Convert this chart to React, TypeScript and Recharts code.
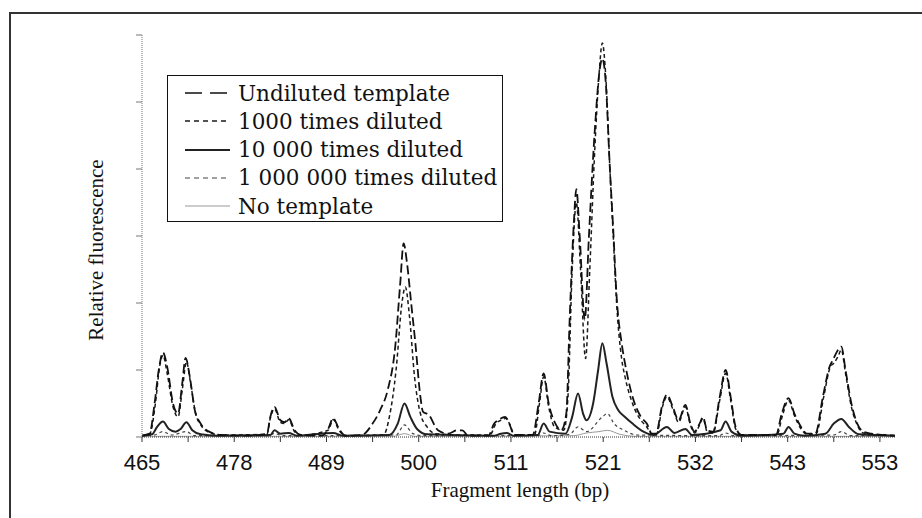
import { Line, LineChart, XAxis, YAxis } from "recharts";

type Pt = { bp: number; v: number };

// tick labels printed under every second tick mark
const xTickLabels = ["465", "478", "489", "500", "511", "521", "532", "543", "553"];
const xTickCount = 17;
const xTicks = Array.from({ length: xTickCount }, (_, i) => 465 + i * 5.5);
const yTicks = [0, 1, 2, 3, 4, 5, 6];

const seriesNames = [
  "Undiluted template",
  "1000 times diluted",
  "10 000 times diluted",
  "1 000 000 times diluted",
  "No template",
];

const toPts = (rows: number[][]): Pt[] => rows.map(([bp, v]) => ({ bp, v }));

const undiluted = toPts([
  [465, 0.02], [465.9, 0.05], [466.5, 0.5], [467.0, 1.0], [467.5, 1.26], [468.0, 1.05],
  [468.7, 0.5], [469.3, 0.35], [469.8, 0.8], [470.2, 1.18], [470.7, 0.9], [471.3, 0.4],
  [472.0, 0.2], [473.0, 0.08], [474.5, 0.03], [478.0, 0.02], [479.9, 0.05], [480.3, 0.3],
  [480.8, 0.45], [481.5, 0.25], [482.0, 0.22], [482.5, 0.28], [483.2, 0.1], [484.0, 0.03],
  [486.5, 0.02], [487.2, 0.12], [487.8, 0.28], [488.5, 0.12], [489.3, 0.02], [491.2, 0.03],
  [492.5, 0.2], [493.4, 0.4], [494.3, 0.7], [495.2, 1.35], [495.8, 2.3], [496.2, 2.89],
  [496.6, 2.6], [497.1, 2.0], [497.6, 1.4], [498.2, 0.6], [498.5, 0.38], [499.2, 0.33],
  [500.3, 0.1], [501.5, 0.05], [502.6, 0.1], [503.2, 0.1], [503.9, 0.02], [506.3, 0.02],
  [507.0, 0.2], [507.6, 0.26], [508.3, 0.3], [508.8, 0.2], [509.4, 0.03], [511.6, 0.03],
  [512.3, 0.5], [512.9, 0.95], [513.5, 0.5], [514.3, 0.2], [515.0, 0.1], [515.6, 0.35],
  [516.0, 1.75], [516.5, 3.2], [516.8, 3.7], [517.2, 3.0], [517.8, 1.75], [518.3, 3.0],
  [519.0, 4.58], [519.6, 5.5], [519.9, 5.65], [520.3, 5.3], [520.8, 4.0], [521.2, 3.09],
  [521.6, 2.1], [522.2, 1.4], [522.6, 1.1], [523.5, 0.6], [524.5, 0.3], [525.2, 0.2],
  [525.8, 0.05], [526.3, 0.05], [527.0, 0.45], [527.6, 0.63], [528.3, 0.45], [529.0, 0.25],
  [529.8, 0.48], [530.4, 0.2], [530.9, 0.08], [531.5, 0.2], [531.9, 0.3], [532.4, 0.1],
  [533.1, 0.08], [533.9, 0.6], [534.6, 1.0], [535.2, 0.6], [535.8, 0.15], [536.5, 0.03],
  [540.6, 0.03], [541.3, 0.35], [542.1, 0.58], [542.8, 0.35], [543.6, 0.15], [544.3, 0.05],
  [545.3, 0.05], [546.2, 0.6], [547.0, 1.05], [547.4, 1.15], [548.0, 1.3], [548.4, 1.35],
  [548.9, 1.0], [549.6, 0.5], [550.3, 0.2], [551.0, 0.08], [552.0, 0.05], [553.5, 0.03],
  [554.8, 0.02],
]);

const diluted1000 = toPts([
  [465, 0.02], [465.9, 0.04], [466.6, 0.5], [467.1, 1.05], [467.5, 1.22], [468.0, 0.95],
  [468.7, 0.45], [469.3, 0.3], [469.8, 0.7], [470.3, 1.12], [470.8, 0.8], [471.4, 0.35],
  [472.0, 0.18], [473.0, 0.07], [474.5, 0.03], [479.9, 0.04], [480.3, 0.28], [480.8, 0.42],
  [481.5, 0.22], [482.0, 0.2], [482.5, 0.26], [483.2, 0.08], [484.0, 0.03], [487.2, 0.1],
  [487.8, 0.26], [488.5, 0.1], [489.3, 0.02], [493.8, 0.03], [494.5, 0.3], [495.3, 1.0],
  [496.0, 2.0], [496.4, 2.24], [496.9, 1.8], [497.5, 0.9], [498.2, 0.35], [499.0, 0.15],
  [500.0, 0.05], [503.0, 0.03], [506.5, 0.03], [507.2, 0.2], [507.8, 0.25], [508.4, 0.28],
  [508.9, 0.18], [509.4, 0.03], [511.8, 0.03], [512.4, 0.5], [512.9, 0.9], [513.5, 0.45],
  [514.2, 0.15], [515.3, 0.1], [515.8, 0.6], [516.3, 2.5], [516.8, 3.5], [517.3, 2.5],
  [517.9, 1.17], [518.4, 2.5], [519.0, 4.3], [519.5, 5.4], [519.9, 5.88], [520.3, 5.4],
  [520.8, 4.0], [521.2, 3.0], [521.6, 2.0], [522.2, 1.17], [522.6, 0.9], [523.5, 0.5],
  [524.5, 0.25], [525.2, 0.15], [525.8, 0.04], [526.4, 0.05], [527.0, 0.42], [527.6, 0.6],
  [528.3, 0.42], [529.0, 0.22], [529.8, 0.45], [530.4, 0.18], [530.9, 0.06], [531.5, 0.18],
  [531.9, 0.28], [532.4, 0.08], [533.1, 0.06], [533.9, 0.55], [534.6, 0.95], [535.2, 0.55],
  [535.8, 0.12], [536.5, 0.03], [540.7, 0.03], [541.4, 0.33], [542.1, 0.55], [542.8, 0.32],
  [543.6, 0.12], [544.3, 0.04], [545.4, 0.05], [546.3, 0.6], [547.1, 1.05], [547.5, 1.1],
  [548.0, 1.2], [548.4, 1.3], [548.9, 0.95], [549.6, 0.45], [550.3, 0.18], [551.0, 0.06],
  [554.8, 0.02],
]);

const diluted10k = toPts([
  [465, 0.02], [466.2, 0.04], [466.8, 0.15], [467.5, 0.23], [468.2, 0.12], [469.0, 0.08],
  [469.6, 0.12], [470.3, 0.22], [471.0, 0.1], [472.0, 0.04], [474.0, 0.02], [480.3, 0.03],
  [480.8, 0.1], [481.5, 0.05], [482.5, 0.06], [483.5, 0.02], [487.8, 0.06], [489.0, 0.02],
  [494.5, 0.03], [495.5, 0.2], [496.3, 0.5], [497.0, 0.3], [497.8, 0.12], [499.0, 0.04],
  [507.0, 0.02], [507.8, 0.05], [508.5, 0.06], [509.3, 0.02], [512.2, 0.03], [512.9, 0.2],
  [513.6, 0.08], [515.5, 0.05], [516.3, 0.3], [517.0, 0.65], [517.6, 0.35], [518.0, 0.25],
  [518.8, 0.5], [519.4, 1.0], [519.9, 1.4], [520.4, 1.1], [521.1, 0.6], [521.8, 0.4],
  [522.6, 0.3], [523.5, 0.2], [524.8, 0.08], [526.0, 0.03], [527.6, 0.15], [528.5, 0.06],
  [529.8, 0.12], [530.6, 0.03], [534.0, 0.1], [534.6, 0.23], [535.3, 0.08], [536.5, 0.02],
  [541.5, 0.05], [542.1, 0.15], [542.8, 0.05], [544.0, 0.02], [546.5, 0.05], [547.5, 0.2],
  [548.4, 0.27], [549.3, 0.15], [550.5, 0.04], [554.8, 0.02],
]);

const diluted1M = toPts([
  [465, 0.02], [466.5, 0.03], [467.5, 0.08], [468.5, 0.03], [470.3, 0.08], [471.2, 0.02],
  [480.0, 0.02], [480.8, 0.05], [481.8, 0.02], [495.3, 0.03], [496.3, 0.18], [497.3, 0.05],
  [498.5, 0.02], [512.2, 0.02], [512.9, 0.06], [513.8, 0.02], [516.0, 0.04], [517.0, 0.15],
  [518.0, 0.08], [519.9, 0.3], [520.5, 0.35], [521.3, 0.2], [522.5, 0.1], [524.0, 0.03],
  [533.8, 0.02], [534.6, 0.06], [535.5, 0.02], [547.5, 0.03], [548.4, 0.08], [549.5, 0.02],
  [554.8, 0.02],
]);

const noTemplate = toPts([
  [465, 0.01], [495.0, 0.01], [496.3, 0.05], [497.5, 0.01], [516.5, 0.02], [518.0, 0.06],
  [519.5, 0.08], [520.5, 0.1], [522.0, 0.04], [524.0, 0.01], [554.8, 0.01],
]);

const styles = [
  { data: undiluted, stroke: "#111", width: 1.8, dash: "9 4", legendDash: "17 8" },
  { data: diluted1000, stroke: "#1a1a1a", width: 1.5, dash: "4 3", legendDash: "5 4" },
  { data: diluted10k, stroke: "#222", width: 2, dash: undefined, legendDash: undefined },
  { data: diluted1M, stroke: "#444", width: 1.2, dash: "3 3", legendDash: "5 4" },
  { data: noTemplate, stroke: "#999", width: 1, dash: undefined, legendDash: undefined },
];

function LegendBox() {
  return (
    <div
      style={{
        position: "absolute",
        left: 167,
        top: 75,
        width: 336,
        height: 147,
        border: "1.5px solid #111",
        background: "#fff",
        boxSizing: "border-box",
      }}
    >
      {seriesNames.map((name, i) => {
        const s = styles[i];
        return (
          <div
            key={name}
            style={{
              position: "absolute",
              left: 17,
              top: 3 + i * 28.3,
              height: 28,
              display: "flex",
              alignItems: "center",
              whiteSpace: "nowrap",
            }}
          >
            <svg width={45} height={10} style={{ marginRight: 8 }}>
              <line
                x1={0}
                y1={5}
                x2={45}
                y2={5}
                stroke={s.stroke}
                strokeWidth={i === 0 ? 1.6 : s.width}
                strokeDasharray={s.legendDash}
              />
            </svg>
            <span style={{ fontFamily: "DejaVu Serif", fontSize: 21.5, color: "#111" }}>{name}</span>
          </div>
        );
      })}
    </div>
  );
}

export default function App() {
  return (
    <div
      style={{
        position: "absolute",
        left: 0,
        top: 0,
        width: 922,
        height: 518,
        overflow: "hidden",
        background: "#fff",
      }}
    >
      <div
        style={{
          position: "absolute",
          left: 9,
          top: 12,
          width: 1000,
          height: 1000,
          border: "2px solid #333",
        }}
      />
      <LineChart
        width={922}
        height={518}
        margin={{ top: 35, right: 27, bottom: 0, left: 0 }}
        style={{ position: "absolute", left: 0, top: 0 }}
      >
        <XAxis
          dataKey="bp"
          type="number"
          domain={[465, 554.8]}
          ticks={xTicks}
          interval={0}
          height={81}
          allowDataOverflow
          tickSize={5}
          tickMargin={12}
          stroke="#333"
          axisLine={{ stroke: "#333", strokeDasharray: "1 1" }}
          tick={{ fill: "#111", fontSize: 22, fontFamily: "Liberation Sans" }}
          tickFormatter={(_v: number, i: number) => (i % 2 === 0 ? xTickLabels[i / 2] : "")}
        />
        <XAxis
          xAxisId="top"
          orientation="top"
          type="number"
          domain={[465, 554.8]}
          height={0}
          tick={false}
          tickLine={false}
          axisLine={{ stroke: "#bbb", strokeDasharray: "2 3" }}
        />
        <YAxis
          width={142}
          type="number"
          domain={[0, 6]}
          ticks={yTicks}
          tickSize={6}
          stroke="#777"
          axisLine={{ stroke: "#777", strokeDasharray: "1 1" }}
          tickFormatter={() => ""}
        />
        <YAxis
          yAxisId="right"
          orientation="right"
          width={0}
          domain={[0, 6]}
          tick={false}
          tickLine={false}
          axisLine={{ stroke: "#666", strokeDasharray: "1 1" }}
        />
        {styles
          .map((s, i) => ({ ...s, name: seriesNames[i] }))
          .reverse()
          .map((s) => (
            <Line
              key={s.name}
              data={s.data}
              dataKey="v"
              name={s.name}
              type="monotone"
              stroke={s.stroke}
              strokeWidth={s.width}
              strokeDasharray={s.dash}
              dot={false}
              activeDot={false}
              isAnimationActive={false}
            />
          ))}
      </LineChart>
      <LegendBox />
      <div
        style={{
          position: "absolute",
          left: 96,
          top: 250,
          transform: "translate(-50%, -50%) rotate(-90deg)",
          fontFamily: "Liberation Serif",
          fontSize: 21,
          color: "#111",
          whiteSpace: "nowrap",
        }}
      >
        Relative fluorescence
      </div>
      <div
        style={{
          position: "absolute",
          left: 520,
          top: 490,
          transform: "translate(-50%, -50%)",
          fontFamily: "Liberation Serif",
          fontSize: 21,
          color: "#111",
          whiteSpace: "nowrap",
        }}
      >
        Fragment length (bp)
      </div>
    </div>
  );
}
